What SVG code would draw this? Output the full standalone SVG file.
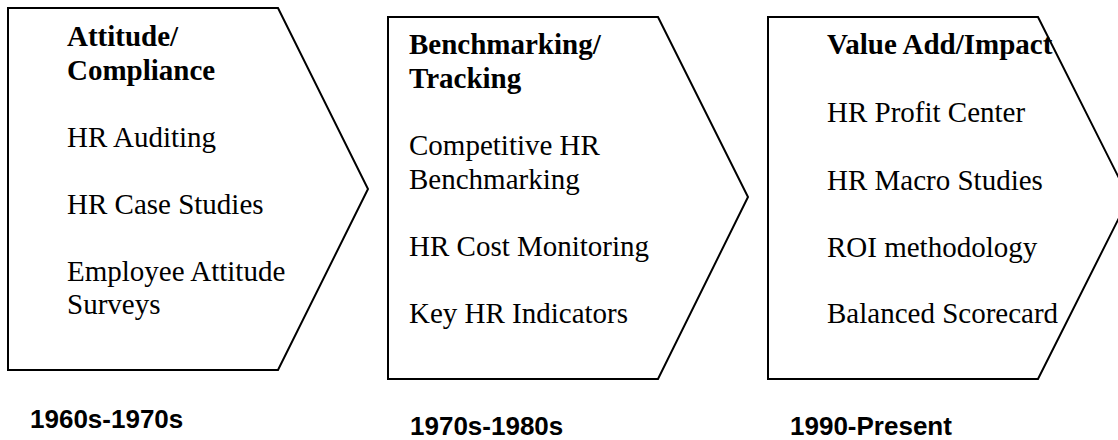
<svg xmlns="http://www.w3.org/2000/svg" width="1118" height="440" viewBox="0 0 1118 440">
  <style>
    .stage { fill: #ffffff; stroke: #000000; stroke-width: 2; stroke-linejoin: miter; }
    .head { font-family: "Liberation Serif", "Times New Roman", serif; font-size: 29px; font-weight: bold; fill: #000; }
    .item { font-family: "Liberation Serif", "Times New Roman", serif; font-size: 29px; fill: #000; }
    .era { font-family: "Liberation Sans", Arial, sans-serif; font-size: 26px; font-weight: bold; fill: #000; }
  </style>
  <rect width="1118" height="440" fill="#ffffff"/>

  <!-- Stage 1 -->
  <g id="stage-attitude">
    <polygon class="stage" points="8,8 278,8 368,189 278,370 8,370"/>
    <text class="head" x="67" y="46">Attitude/</text>
    <text class="head" x="67" y="80">Compliance</text>
    <text class="item" x="67" y="147">HR Auditing</text>
    <text class="item" x="67" y="214">HR Case Studies</text>
    <text class="item" x="67" y="281">Employee Attitude</text>
    <text class="item" x="67" y="314">Surveys</text>
  </g>

  <!-- Stage 2 -->
  <g id="stage-benchmarking">
    <polygon class="stage" points="388,17 658,17 748,197 658,379 388,379"/>
    <text class="head" x="409" y="54">Benchmarking/</text>
    <text class="head" x="409" y="88">Tracking</text>
    <text class="item" x="409" y="155">Competitive HR</text>
    <text class="item" x="409" y="189">Benchmarking</text>
    <text class="item" x="409" y="256">HR Cost Monitoring</text>
    <text class="item" x="409" y="323">Key HR Indicators</text>
  </g>

  <!-- Stage 3 (text drawn first so the outline passes over it) -->
  <g id="stage-value">
    <text class="head" x="827" y="54">Value Add/Impact</text>
    <text class="item" x="827" y="122">HR Profit Center</text>
    <text class="item" x="827" y="190">HR Macro Studies</text>
    <text class="item" x="827" y="257">ROI methodology</text>
    <text class="item" x="827" y="323">Balanced Scorecard</text>
    <polygon class="stage" fill="none" style="fill:none" points="768,17 1038,17 1129,198 1038,379 768,379"/>
  </g>

  <!-- Era labels -->
  <g id="eras">
    <text class="era" x="30" y="428">1960s-1970s</text>
    <text class="era" x="410" y="435">1970s-1980s</text>
    <text class="era" x="790" y="435">1990-Present</text>
  </g>

  <g id="connectors"/>
</svg>
